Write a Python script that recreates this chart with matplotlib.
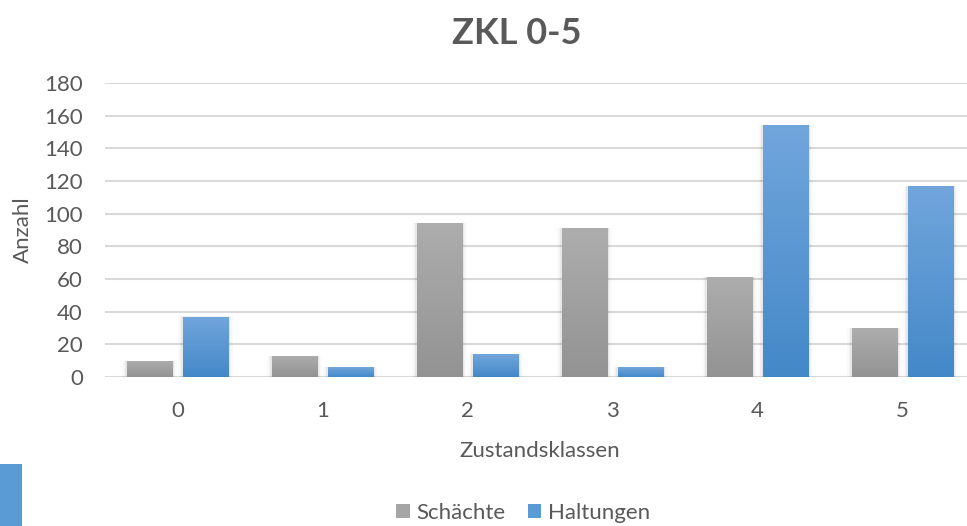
import numpy as np
import matplotlib
matplotlib.use("Agg")
import matplotlib.pyplot as plt
from matplotlib.patches import Rectangle, Patch
from matplotlib.colors import LinearSegmentedColormap

categories = ["0", "1", "2", "3", "4", "5"]
schaechte = [10, 13, 94, 91, 61, 30]
haltungen = [37, 6, 14, 6, 154, 117]
series_names = ["Schächte", "Haltungen"]
yticks = [0, 20, 40, 60, 80, 100, 120, 140, 160, 180]

plt.rcParams['font.family'] = ['Lato', 'DejaVu Sans']
txt = '#595959'

fig = plt.figure(figsize=(9.67, 5.26), dpi=100)
W, H = 967, 526
ax = fig.add_axes([105 / W, (H - 377) / H, 870 / W, 294 / H])

x = np.arange(len(categories))
bw = 46 / 145
off = 28 / 145

gray_cmap = LinearSegmentedColormap.from_list('g', ['#939393', '#adadad'])
blue_cmap = LinearSegmentedColormap.from_list('b', ['#4488c8', '#71a6dc'])
grad = np.linspace(0, 1, 256).reshape(-1, 1)

def gbars(xs, vals, cmap, base):
    bars = ax.bar(xs, vals, width=bw, color=base, zorder=3, linewidth=0)
    for b in bars:
        x0, y0 = b.get_x(), b.get_y()
        w, h = b.get_width(), b.get_height()
        # soft shadow
        for i, a in enumerate([0.045, 0.03, 0.02]):
            d = (i + 1) * 0.01
            sh = Rectangle((x0 - d, y0), w + 2 * d, h + d * 2.5, color='black',
                           alpha=a, zorder=2, linewidth=0)
            ax.add_patch(sh)
        im = ax.imshow(grad, cmap=cmap, aspect='auto', origin='lower',
                       extent=[x0, x0 + w, y0, y0 + h], zorder=4)
        im.set_clip_path(b)
    return bars

gbars(x - off, schaechte, gray_cmap, '#a5a5a5')
gbars(x + off, haltungen, blue_cmap, '#5b9bd5')

ax.set_xlim(-0.5, len(categories) - 0.5)
ax.set_ylim(0, 180)
ax.set_yticks(yticks)
ax.set_xticks(x)
ax.set_xticklabels(categories)
ax.grid(axis='y', color='#d9d9d9', linewidth=1.5, zorder=0)
ax.set_axisbelow(True)
for s in ax.spines.values():
    s.set_visible(False)
ax.axhline(0, color='#d9d9d9', linewidth=1.8, zorder=1)
ax.tick_params(axis='both', length=0, labelsize=16, colors=txt)
ax.tick_params(axis='y', pad=16)
ax.tick_params(axis='x', pad=17)
ax.set_ylabel('Anzahl', fontsize=16, color=txt, labelpad=8)
ax.set_xlabel('Zustandsklassen', fontsize=16, color=txt, labelpad=15)

fig.text(517 / W, 1 - 33 / H, 'ZKL 0-5', ha='center', va='center',
         fontsize=26, fontweight='bold', color=txt)

handles = [Patch(facecolor='#a5a5a5'), Patch(facecolor='#5b9bd5')]
fig.legend(handles, series_names, loc='center', bbox_to_anchor=(523 / W, 1 - 513 / H),
           ncol=2, frameon=False, fontsize=16, labelcolor=txt,
           handlelength=0.6, handleheight=0.6, handletextpad=0.3, columnspacing=1.0)

fig.patches.append(Rectangle((0, 0), 22 / W, 62 / H, transform=fig.transFigure,
                             facecolor='#5b9bd5', edgecolor='none'))

fig.savefig('out.png', dpi=100)
